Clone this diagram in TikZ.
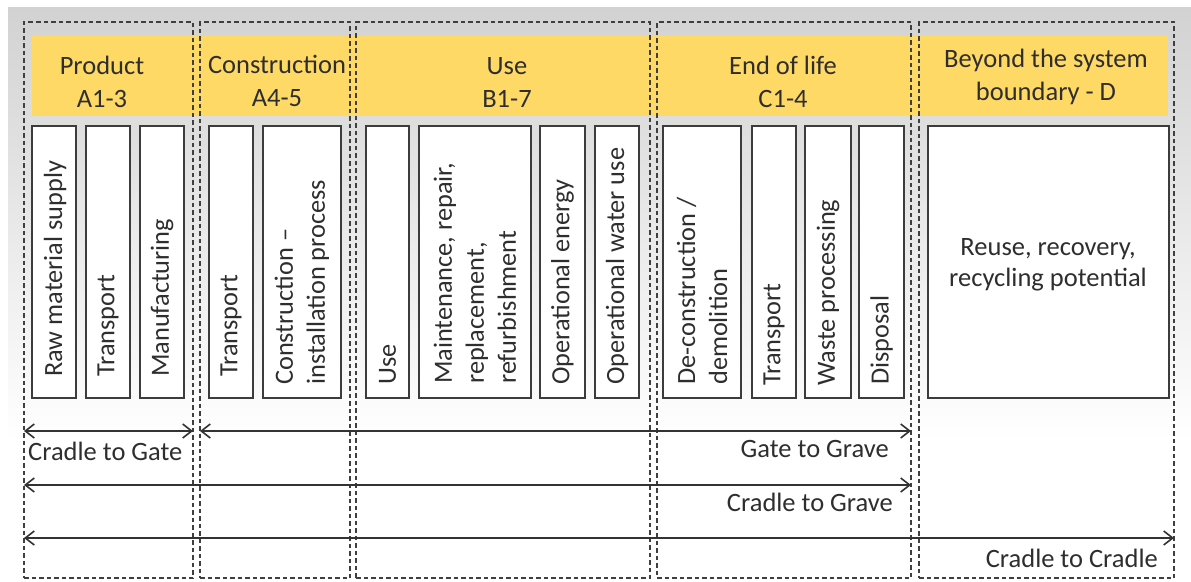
\documentclass[tikz,border=0pt]{standalone}
\usepackage{fontspec}
\setmainfont{Carlito}
\usetikzlibrary{arrows.meta}
\definecolor{bggray}{HTML}{D2D2D2}
\definecolor{hdr}{HTML}{FFD966}
\definecolor{dashc}{HTML}{3F3F3F}
\definecolor{boxc}{HTML}{3C3C3C}
\definecolor{txt}{HTML}{2E2E2E}
\definecolor{arrc}{HTML}{333333}
\begin{document}
\begin{tikzpicture}[x=1pt,y=-1pt,
  stage/.style={draw=dashc, dash pattern=on 4.5pt off 3pt, line width=1.1pt, rectangle, inner sep=0pt, outer sep=0pt, minimum height=556pt},
  subbox/.style={draw=boxc, fill=white, line width=1.3pt, rectangle, inner sep=0pt, outer sep=0pt, minimum height=272pt},
  hdrtext/.style={font=\fontsize{26.5}{33}\selectfont, text=txt, align=center, inner sep=0pt, anchor=base},
  vlabel/.style={font=\fontsize{26.3}{32}\selectfont, text=txt, rotate=90, anchor=west, align=left, inner sep=0pt},
  spanlabel/.style={font=\fontsize{26.5}{32}\selectfont, text=txt, inner sep=0pt},
  span/.style={draw=arrc, line width=1.6pt, >={Straight Barb[length=9pt,width=14pt]}, <->}
]
\useasboundingbox (0,0) rectangle (1191,581);
\fill[white] (0,0) rectangle (1191,581);
\shade[top color=bggray, bottom color=white] (8,7) rectangle (1191,440);
% yellow header band
\fill[hdr] (32,36) rectangle (1168,116);
% stage boundaries
\node[stage, minimum width=169pt] (prod) at (108.5,300) {};
\node[stage, minimum width=150pt] (cons) at (275,300) {};
\node[stage, minimum width=294pt] (use) at (503,300) {};
\node[stage, minimum width=254pt] (eol) at (784,300) {};
\node[stage, minimum width=255pt] (beyond) at (1046.5,300) {};
% headers (anchor base = baseline of last line)
\node[hdrtext] (hprod) at (102,107) {Product\\A1-3};
\node[hdrtext] (hcons) at (277,106) {Construction\\A4-5};
\node[hdrtext] (huse) at (507,107) {Use\\B1-7};
\node[hdrtext] (heol) at (783,107) {End of life\\C1-4};
\node[hdrtext] (hbey) at (1046,100) {Beyond the system\\boundary - D};
% module boxes
\node[subbox, minimum width=44pt] (b1) at (54,262) {};
\node[subbox, minimum width=44pt] (b2) at (108,262) {};
\node[subbox, minimum width=44pt] (b3) at (162,262) {};
\node[subbox, minimum width=44pt] (b4) at (231,262) {};
\node[subbox, minimum width=78pt] (b5) at (302,262) {};
\node[subbox, minimum width=43pt] (b6) at (387.5,262) {};
\node[subbox, minimum width=112pt] (b7) at (475,262) {};
\node[subbox, minimum width=45pt] (b8) at (562.5,262) {};
\node[subbox, minimum width=44pt] (b9) at (617,262) {};
\node[subbox, minimum width=78pt] (b10) at (702,262) {};
\node[subbox, minimum width=44pt] (b11) at (774,262) {};
\node[subbox, minimum width=46pt] (b12) at (828,262) {};
\node[subbox, minimum width=45pt] (b13) at (881.5,262) {};
\node[subbox, minimum width=241pt] (b14) at (1048.5,262) {};
% module labels
\node[vlabel] (t1) at (55,377) {Raw material supply};
\node[vlabel] (t2) at (108,377) {Transport};
\node[vlabel] (t3) at (162,377) {Manufacturing};
\node[vlabel] (t4) at (231,377) {Transport};
\node[vlabel] (t5) at (302,385) {Construction –\\installation process};
\node[vlabel] (t6) at (387.5,385) {Use};
\node[vlabel] (t7) at (475,384) {Maintenance, repair,\\replacement,\\refurbishment};
\node[vlabel] (t8) at (562.5,385) {Operational energy};
\node[vlabel] (t9) at (617,385) {Operational water use};
\node[vlabel] (t10) at (702,385) {De-construction /\\demolition};
\node[vlabel] (t11) at (774,386) {Transport};
\node[vlabel] (t12) at (828,386) {Waste processing};
\node[vlabel] (t13) at (881.5,385) {Disposal};
\node[font=\fontsize{26.5}{31}\selectfont, text=txt, align=center, inner sep=0pt] (t14) at (1048,265) {Reuse, recovery,\\recycling potential};
% span rows
\coordinate (r1) at (0,431);
\coordinate (r2) at (0,485);
\coordinate (r3) at (0,538);
\draw[span] (prod.west |- r1) -- (prod.east |- r1);
\draw[span] (cons.west |- r1) -- (eol.east |- r1);
\draw[span] (prod.west |- r2) -- (eol.east |- r2);
\draw[span] (prod.west |- r3) -- (beyond.east |- r3);
\node[spanlabel, anchor=base west] (l1) at (28,460) {Cradle to Gate};
\node[spanlabel, anchor=base east] (l2) at (889,457) {Gate to Grave};
\node[spanlabel, anchor=base east] (l3) at (893,511) {Cradle to Grave};
\node[spanlabel, anchor=base east] (l4) at (1158,567) {Cradle to Cradle};
\end{tikzpicture}
\end{document}
